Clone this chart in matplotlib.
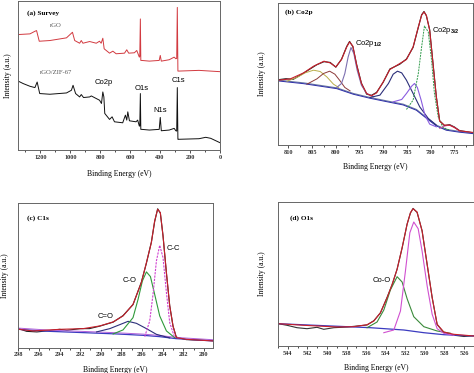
import matplotlib
matplotlib.use('Agg')
import matplotlib.pyplot as plt
from matplotlib.ticker import MultipleLocator

plt.rcParams['font.family'] = 'Liberation Serif'
plt.rcParams['font.weight'] = 'bold'
plt.rcParams['mathtext.fontset'] = 'custom'
plt.rcParams['mathtext.rm'] = 'Liberation Sans'
plt.rcParams['mathtext.it'] = 'Liberation Sans'

RED = '#c8202c'
SANS = 'Liberation Sans'

# (a) survey spectra
rgo_energy = [1350, 1270, 1237, 1226, 1208, 1137, 1026, 986, 971, 938, 927, 916, 871, 827, 805,
              794, 783, 774, 738, 716, 694, 638, 623, 610, 572, 556, 539, 536, 532, 529,
              523, 472, 406, 399, 392, 339, 306, 295, 289, 285, 281, 273, 140, 0]
rgo_int = [116, 116.7, 119.3, 120, 109.3, 110, 112.7, 118.3, 110, 107.3, 110, 107.3, 109, 107.3, 109.3,
           107.3, 112.3, 101.7, 97.3, 99.3, 96.7, 97.3, 100.7, 97.3, 97.7, 100, 93.3, 94, 131.7, 90,
           90, 89.3, 90, 95, 89.3, 90.7, 93.3, 91.7, 92, 143.3, 79.3, 79.3, 80, 78.7]
zif_energy = [1350, 1315, 1270, 1237, 1222, 1205, 1137, 1026, 993, 982, 965, 938, 927, 912, 871,
              860, 827, 805, 792, 783, 776, 770, 738, 721, 705, 650, 632, 623, 616, 605,
              561, 550, 539, 536, 532, 529, 523, 472, 406, 399, 392, 339, 306, 295, 289,
              285, 281, 277, 140, 95, 62, 0]
zif_int = [69.3, 66.7, 64, 62.7, 68.3, 56.7, 56, 57.3, 60, 65, 56.7, 53.3, 55.7, 52.7, 53.3,
           54.3, 51.7, 50, 46.7, 58.3, 53.3, 36.7, 30.7, 33.3, 28.3, 27.3, 35, 30, 38.3, 29.3,
           28.3, 30, 24, 24, 56.7, 20.7, 20.7, 20, 20.7, 32.7, 19.3, 20, 21.7, 19.3, 19,
           62.7, 10.7, 10.7, 11.3, 12.7, 11.7, 7.3]

# (b) Co2p
co_env_e = [812.1, 809.6, 806.8, 804.7, 802.5, 801.2, 800.0, 798.8, 797.7, 797.1, 796.4, 795.6, 794.6,
            793.5, 792.5, 791.4, 790.0, 788.6, 786.5, 785.1, 783.7, 782.6, 781.9, 781.4, 780.9, 780.2,
            779.5, 778.8, 778.1, 777.1, 776.0, 775.0, 773.9, 771.1]
co_env_i = [65, 66.3, 72.3, 79, 84, 82.3, 78.3, 85.7, 98.3, 103.3, 99, 80, 61.7,
            51.7, 49.3, 52.3, 63.3, 75.7, 81.7, 85.7, 98.3, 118.3, 130, 133.3, 130, 115,
            81.7, 48.3, 24, 20, 20, 17.7, 14.3, 12.7]
co_raw_e = [812.1, 810.5, 809.0, 807.5, 805.5, 804.0, 802.5, 801.2, 800.0, 798.8, 797.7, 797.1, 796.4,
            795.6, 794.6, 793.5, 792.5, 791.4, 790.0, 788.6, 786.5, 785.1, 783.7, 782.6, 781.9, 781.4,
            780.9, 780.2, 779.5, 778.8, 778.1, 777.1, 776.0, 775.0, 773.9, 772.5, 771.1]
co_raw_i = [65.5, 66.5, 65.8, 70, 76, 80.5, 83.5, 82.8, 78, 86, 98.8, 103.8, 98.5,
            80.5, 62, 51, 49.8, 52.8, 63, 76.2, 81, 86.2, 97.8, 117.8, 130.5, 133.8,
            129.5, 115.5, 82, 48.8, 24.5, 19.5, 20.5, 18.2, 14.5, 13.5, 12.3]
co_base_e = [812.1, 806.8, 799.8, 796.3, 792.8, 789.3, 785.8, 783.0, 780.9, 778.8, 776.7, 773.9, 771.1]
co_base_i = [65, 62.3, 57.3, 51.7, 47.7, 44.3, 41, 35.7, 27.7, 20, 15.7, 13.7, 12.3]
co_sat1_e = [810.3, 808.2, 806.5, 804.7, 803.3, 801.9, 800.5, 799.4]
co_sat1_i = [64, 67.7, 72.3, 75, 73.7, 68.3, 61, 57.7]
co_sat2_e = [806.1, 804.0, 802.6, 801.3, 800.2, 799.1, 798.1, 797.0]
co_sat2_i = [61, 66.3, 71.7, 74, 71, 64.3, 57.7, 54.3]
co_p12_e = [799.8, 798.8, 798.1, 797.4, 796.8, 796.2, 795.5, 794.6, 793.5, 792.1]
co_p12_i = [57.7, 61.7, 71.7, 88.3, 97.7, 91.7, 75, 60, 51.7, 48.3]
co_sat3_e = [792.8, 790.7, 788.9, 787.9, 787.0, 786.1, 785.1, 783.7, 782.3, 780.5, 778.8]
co_sat3_i = [47.7, 50, 61.7, 71, 74, 72.3, 65, 51.7, 38.3, 26.7, 20]
co_p32b_e = [787.9, 786.1, 785.1, 784.0, 783.4, 782.8, 782.0, 781.2, 780.2, 778.8]
co_p32b_i = [43.3, 45.7, 51.7, 59, 61.7, 57.7, 45, 30, 21, 18.3]
co_p32_e = [785.1, 783.7, 782.6, 781.9, 781.3, 780.5, 779.8, 779.2, 778.4, 777.4, 776.0]
co_p32_i = [35.7, 45, 71.7, 98.3, 119.3, 113.3, 85, 51.7, 28.3, 17.7, 15]
co_small_e = [778.1, 777.1, 776.0, 775.0, 773.9]
co_small_i = [16.7, 19, 20, 17.7, 14.3]

# (c) C1s
c_env_e = [297.96, 296.55, 293.96, 291.7, 290.09, 288.8, 287.84, 286.87, 286.06, 285.57, 285.09,
           284.77, 284.48, 284.22, 283.96, 283.63, 283.31, 282.99, 282.67, 281.7, 279.12]
c_env_i = [18.3, 16.7, 18.3, 19, 21.7, 25.7, 31.7, 43.3, 65, 85, 105,
           126.7, 138.3, 135, 111.7, 75, 41.7, 21.7, 10, 8.3, 6.7]
c_raw_e = [297.96, 297.2, 296.2, 295.0, 294.0, 293.3, 292.0, 291.1, 290.09, 288.8, 287.84, 286.87,
           286.06, 285.57, 285.09, 284.77, 284.48, 284.22, 283.96, 283.63, 283.31, 282.99, 282.67,
           281.7, 279.12]
c_raw_i = [19, 16.3, 15.7, 17, 18.3, 17.3, 19, 19, 21.5, 25.5, 32, 43, 65.5, 84.5, 105.5,
           126, 138.8, 134.5, 112, 74.5, 42, 21.5, 10.5, 8, 7]
c_base_e = [297.96, 295.0, 291.7, 288.5, 285.9, 284.3, 282.7, 279.12]
c_base_i = [18.3, 16.3, 15, 13.7, 12.3, 11, 9, 6.7]
c_cc_e = [285.73, 285.25, 284.93, 284.6, 284.28, 283.96, 283.63, 283.31, 282.83]
c_cc_i = [11, 26.7, 53.3, 86.7, 102.3, 90, 55, 25, 10]
c_co_e = [288.8, 287.84, 286.87, 286.38, 285.96, 285.57, 285.18, 284.77, 284.28, 283.63, 282.83]
c_co_i = [13.7, 17.7, 30, 48.3, 66.7, 75.7, 71, 53.3, 31.7, 16.7, 10]
c_cdo_e = [290.41, 289.12, 288.15, 287.35, 286.54, 285.57, 284.6, 283.31]
c_cdo_i = [15.7, 19, 23, 26.3, 24.3, 19, 13.3, 9.7]

# (d) O1s
o_env_e = [544.97, 542.37, 538.97, 537.26, 535.9, 535.21, 534.54, 533.85, 533.34, 532.83, 532.32,
           531.81, 531.47, 531.2, 530.79, 530.28, 529.76, 529.25, 528.74, 528.06, 527.03, 524.99]
o_env_i = [22.3, 20.7, 19, 19.3, 21.3, 25, 33.3, 48.3, 61.7, 76.7, 98.3,
           121.7, 133.3, 137.3, 134, 115, 81.7, 48.3, 21.7, 14, 11.7, 10]
o_raw_e = [544.97, 544.08, 543.06, 542.03, 541.01, 540.33, 539.3, 537.9, 535.9, 535.21, 534.54,
           533.85, 533.34, 532.83, 532.32, 531.81, 531.47, 531.2, 530.79, 530.28, 529.76, 529.25,
           528.74, 528.06, 527.03, 526.0, 524.99]
o_raw_i = [22.3, 20.7, 18.3, 17.3, 18.7, 16.7, 18.3, 19, 21, 25.3, 33, 48.8, 61.2, 77, 98,
           122, 133, 137.6, 133.6, 115.4, 81.3, 48.6, 21.4, 13.5, 10.8, 9.5, 10.2]
o_base_e = [544.97, 535.56, 532.15, 530.1, 528.06, 524.99]
o_base_i = [22.3, 18.3, 16, 13.3, 11.3, 10]
o_coo_e = [535.9, 534.88, 534.19, 533.52, 532.83, 532.32, 531.81, 531.13, 530.1, 528.74, 527.38]
o_coo_i = [18.3, 24, 36, 56, 69.3, 64, 47.3, 29.3, 19.3, 15, 12.7]
o_lat_e = [534.19, 533.17, 532.49, 531.98, 531.53, 531.13, 530.68, 530.28, 529.76, 529.25,
           528.74, 528.06, 527.03]
o_lat_i = [13.3, 16, 35, 75, 113.3, 124, 117.3, 95, 60, 31.7, 17.3, 12.7, 10.7]


def style_axes(ax, xlim, ylim, major, minor, ypad, xpad=6):
    ax.set_xlim(*xlim)
    ax.set_ylim(*ylim)
    ax.set_yticks([])
    ax.xaxis.set_major_locator(MultipleLocator(major))
    ax.xaxis.set_minor_locator(MultipleLocator(minor))
    ax.tick_params(axis='x', which='major', direction='out', length=2, width=0.6,
                   labelsize=4.5, pad=1.5, colors='#333333')
    ax.tick_params(axis='x', which='minor', direction='out', length=1.2, width=0.5)
    for sp in ax.spines.values():
        sp.set_color('#666666')
        sp.set_linewidth(0.7)
    ax.set_xlabel('Binding Energy (eV)', fontsize=5.5, labelpad=xpad)
    ax.set_ylabel('Intensity (a.u.)', fontsize=5.5, labelpad=ypad)


fig = plt.figure(figsize=(4.74, 3.73), dpi=100)

ax_a = fig.add_axes([0.038, 0.598, 0.426, 0.400])
ax_b = fig.add_axes([0.5865, 0.611, 0.412, 0.381])
ax_c = fig.add_axes([0.0386, 0.068, 0.411, 0.387])
ax_d = fig.add_axes([0.5865, 0.0724, 0.413, 0.386])

# (a)
ax_a.plot(rgo_energy, rgo_int, color='#d23a40', lw=0.7)
ax_a.plot(zif_energy, zif_int, color='#111111', lw=0.7)
style_axes(ax_a, (1350, 0), (0, 150), 200, 100, 4, xpad=7)
ax_a.text(1290, 138, '(a) Survey', fontsize=5.2, va='center', ha='left')
ax_a.text(1137, 125, 'rGO', fontsize=4.8, va='center', ha='left', weight='normal', color='#555555')
ax_a.text(1203, 78, 'rGO/ZIF-67', fontsize=4.8, va='center', ha='left', weight='normal', color='#555555')
ax_a.text(835, 68, 'Co2p', fontsize=5.5, va='center', ha='left', family=SANS, weight='normal')
ax_a.text(568, 62, 'O1s', fontsize=5.5, va='center', ha='left', family=SANS, weight='normal')
ax_a.text(448, 40, 'N1s', fontsize=5.5, va='center', ha='left', family=SANS, weight='normal')
ax_a.text(321, 70, 'C1s', fontsize=5.5, va='center', ha='left', family=SANS, weight='normal')

# (b)
ax_b.plot(co_raw_e, co_raw_i, color='#222222', lw=0.8)
ax_b.plot(co_base_e, co_base_i, color='#6a7aa0', lw=0.8)
ax_b.plot(co_base_e, [v - 0.8 for v in co_base_i], color='#2d2da8', lw=0.7)
ax_b.plot(co_sat1_e, co_sat1_i, color='#b9ad4a', lw=0.7)
ax_b.plot(co_sat2_e, co_sat2_i, color='#8c3a3a', lw=0.7)
ax_b.plot(co_p12_e, co_p12_i, color='#7c6fb0', lw=0.8)
ax_b.plot(co_sat3_e, co_sat3_i, color='#2c2f7a', lw=0.8)
ax_b.plot(co_p32b_e, co_p32b_i, color='#8a5ce0', lw=0.8)
ax_b.plot(co_p32_e, co_p32_i, color='#2f9a4a', lw=0.7, ls=(0, (2, 1)))
ax_b.plot(co_small_e, co_small_i, color='#d04ca0', lw=0.7)
ax_b.plot(co_env_e, co_env_i, color=RED, lw=0.8)
style_axes(ax_b, (812.2, 771.0), (0, 142.3), 5, 2.5, 9)
ax_b.text(810.7, 133, '(b) Co2p', fontsize=5.2, va='center', ha='left')
ax_b.text(796.0, 102, 'Co2p$_{1/2}$', fontsize=5.5, va='center', ha='left', family=SANS, weight='normal')
ax_b.text(779.8, 115, 'Co2p$_{3/2}$', fontsize=5.5, va='center', ha='left', family=SANS, weight='normal')

# (c)
ax_c.plot(c_raw_e, c_raw_i, color='#222222', lw=0.8)
ax_c.plot(c_base_e, c_base_i, color='#3b3bc0', lw=0.9)
ax_c.plot(c_base_e, [v + 1.2 for v in c_base_i], color='#b060d8', lw=0.7)
ax_c.plot(c_cdo_e, c_cdo_i, color='#2c2f7a', lw=0.8)
ax_c.plot(c_co_e, c_co_i, color='#2f9a3a', lw=0.8)
ax_c.plot(c_cc_e, c_cc_i, color='#d040d0', lw=0.8, ls=(0, (2, 1)))
ax_c.plot(c_env_e, c_env_i, color=RED, lw=0.8)
style_axes(ax_c, (298, 279.1), (0, 144.3), 2, 1, 7)
ax_c.text(297.16, 129.7, '(c) C1s', fontsize=5.2, va='center', ha='left')
ax_c.text(283.6, 98.7, 'C-C', fontsize=5.5, va='center', ha='left', family=SANS, weight='normal')
ax_c.text(287.86, 66.7, 'C-O', fontsize=5.5, va='center', ha='left', family=SANS, weight='normal')
ax_c.text(290.28, 30.7, 'C=O', fontsize=5.5, va='center', ha='left', family=SANS, weight='normal')

# (d)
ax_d.plot(o_raw_e, o_raw_i, color='#333333', lw=0.8)
ax_d.plot(o_base_e, o_base_i, color='#3b3bc0', lw=0.9)
ax_d.plot(o_coo_e, o_coo_i, color='#3a8a3a', lw=0.8)
ax_d.plot(o_lat_e, o_lat_i, color='#d050d0', lw=0.8)
ax_d.plot(o_env_e, o_env_i, color=RED, lw=0.8)
style_axes(ax_d, (545, 525), (0, 144), 2, 1, 9)
ax_d.text(543.8, 128, '(d) O1s', fontsize=5.2, va='center', ha='left')
ax_d.text(535.3, 66, 'Co-O', fontsize=5.5, va='center', ha='left', family=SANS, weight='normal')

fig.savefig('out.png', dpi=100, facecolor='white')
